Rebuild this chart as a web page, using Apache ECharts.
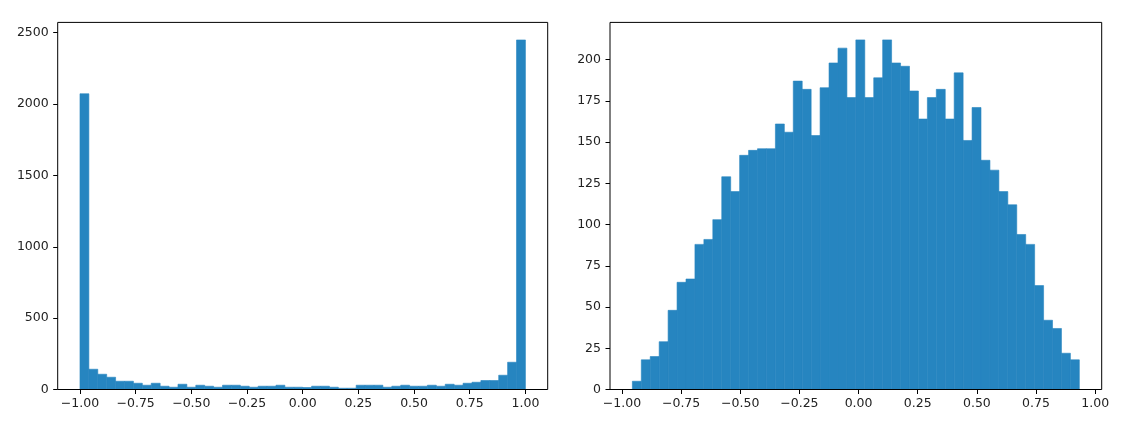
<!DOCTYPE html>
<html>
<head>
<meta charset="utf-8">
<script src="https://cdn.jsdelivr.net/npm/echarts@6/dist/echarts.min.js"></script>
<style>
html,body{margin:0;padding:0;background:#fff;}
#c{width:1122px;height:432px;}
</style>
</head>
<body>
<div id="c"></div>
<script>
// ---- data ----
const leftBinStart = -1.0;
const leftBinWidth = 0.04;
const leftCounts = [2072,142,107,86,58,58,44,30,44,23,16,37,16,30,23,16,30,30,23,16,23,23,30,16,16,
                    14,23,23,16,9,9,30,30,30,16,23,30,23,23,30,23,37,30,44,51,63,63,100,191,2449];
const rightBinStart = -0.956;
const rightBinWidth = 0.03778;
const rightCounts = [5,18,20,29,48,65,67,88,91,103,129,120,142,145,146,146,161,156,187,182,
                     154,183,198,207,177,212,177,189,212,198,196,181,164,177,182,164,192,151,171,139,
                     133,120,112,94,88,63,42,37,22,18];
const xTicks = [-1.0,-0.75,-0.5,-0.25,0.0,0.25,0.5,0.75,1.0];
const leftYTicks = [0,500,1000,1500,2000,2500];
const rightYTicks = [0,25,50,75,100,125,150,175,200];

function bins(start, width, counts){
  return counts.map((c,i)=>[start+i*width, start+(i+1)*width, c]);
}
const BAR = '#2685c0';
const FONT = 'DejaVu Sans';
const fmtX = v => (v < 0 ? '\u2212' : '') + Math.abs(v).toFixed(2);
const fmtY = v => String(Math.round(v));

function xAxisDef(idx, min, max){
  return {
    type:'value', gridIndex:idx, min:min, max:max,
    axisLine:{show:false, onZero:false},
    splitLine:{show:false},
    axisTick:{show:true, inside:false, length:4.5, customValues:xTicks, lineStyle:{color:'#000',width:1}},
    axisLabel:{customValues:xTicks, margin:8, formatter:fmtX, color:'#222', fontFamily:FONT, fontSize:12.5}
  };
}
function yAxisDef(idx, max, ticks){
  return {
    type:'value', gridIndex:idx, min:0, max:max,
    axisLine:{show:false, onZero:false},
    splitLine:{show:false},
    axisTick:{show:true, inside:false, length:4.5, customValues:ticks, lineStyle:{color:'#000',width:1}},
    axisLabel:{customValues:ticks, margin:9, formatter:fmtY, color:'#222', fontFamily:FONT, fontSize:12.5}
  };
}
function renderBar(params, api){
  const p0 = api.coord([api.value(0), api.value(2)]);
  const p1 = api.coord([api.value(1), 0]);
  return {
    type:'rect',
    shape:{x:p0[0], y:p0[1], width:p1[0]-p0[0], height:p1[1]-p0[1]},
    style:{fill:BAR, stroke:BAR, lineWidth:0.6}
  };
}

const chart = echarts.init(document.getElementById('c'), null, {renderer:'canvas'});
chart.setOption({
  animation:false,
  backgroundColor:'#fff',
  grid:[
    {left:57.7, right:574.3, top:22.4, bottom:42.5, show:true, borderColor:'#000', borderWidth:1, backgroundColor:'transparent', containLabel:false, z:3},
    {left:610, right:20.3, top:22.4, bottom:42.5, show:true, borderColor:'#000', borderWidth:1, backgroundColor:'transparent', containLabel:false, z:3}
  ],
  xAxis:[ xAxisDef(0, -1.1, 1.1), xAxisDef(1, -1.0505, 1.0275) ],
  yAxis:[ yAxisDef(0, 2572, leftYTicks), yAxisDef(1, 222.6, rightYTicks) ],
  series:[
    {type:'custom', xAxisIndex:0, yAxisIndex:0, renderItem:renderBar, encode:{x:[0,1], y:2}, data:bins(leftBinStart,leftBinWidth,leftCounts), clip:true},
    {type:'custom', xAxisIndex:1, yAxisIndex:1, renderItem:renderBar, encode:{x:[0,1], y:2}, data:bins(rightBinStart,rightBinWidth,rightCounts), clip:true}
  ]
});
</script>
</body>
</html>
